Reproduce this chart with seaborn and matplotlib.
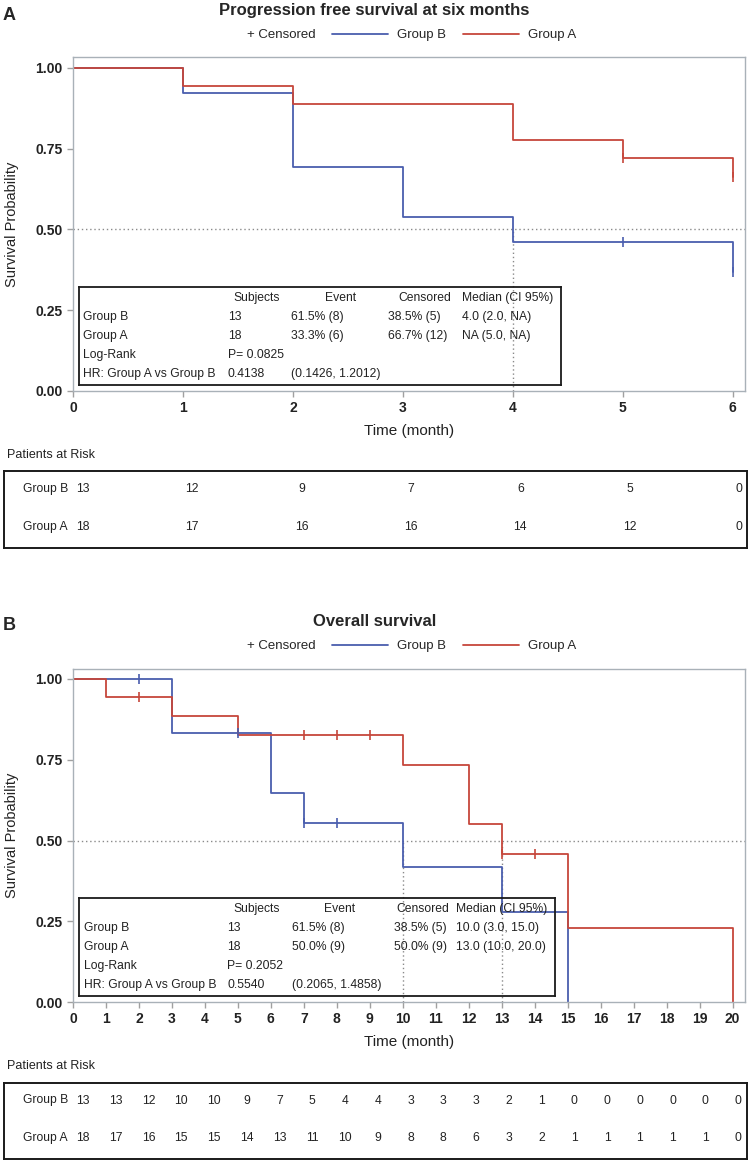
import matplotlib.pyplot as plt
from matplotlib.lines import Line2D
import pandas as pd
import seaborn as sns

# ---- Panel A: progression free survival at six months ----
pfs_times_b = [0, 1, 2, 3, 4, 6]
pfs_surv_b = [1.0, 0.923, 0.692, 0.538, 0.462, 0.369]
pfs_cens_t_b = [5, 6]
pfs_cens_s_b = [0.462, 0.369]
pfs_times_a = [0, 1, 2, 4, 5, 6]
pfs_surv_a = [1.0, 0.944, 0.889, 0.778, 0.722, 0.662]
pfs_cens_t_a = [5, 6]
pfs_cens_s_a = [0.722, 0.662]
pfs_medians = [4.0]
pfs_risk_times = [0, 1, 2, 3, 4, 5, 6]
pfs_risk_b = [13, 12, 9, 7, 6, 5, 0]
pfs_risk_a = [18, 17, 16, 16, 14, 12, 0]
pfs_stats = [
    ["Group B", "13", "61.5% (8)", "38.5% (5)", "4.0 (2.0, NA)"],
    ["Group A", "18", "33.3% (6)", "66.7% (12)", "NA (5.0, NA)"],
    ["Log-Rank", "P= 0.0825", "", "", ""],
    ["HR: Group A vs Group B", "0.4138", "(0.1426, 1.2012)", "", ""],
]

# ---- Panel B: overall survival ----
os_times_b = [0, 3, 6, 7, 10, 13, 15]
os_surv_b = [1.0, 0.833, 0.648, 0.555, 0.417, 0.278, 0.0]
os_cens_t_b = [2, 5, 7, 8]
os_cens_s_b = [1.0, 0.833, 0.555, 0.555]
os_times_a = [0, 1, 3, 5, 10, 12, 13, 15, 20]
os_surv_a = [1.0, 0.944, 0.885, 0.826, 0.735, 0.551, 0.459, 0.229, 0.0]
os_cens_t_a = [2, 7, 8, 9, 13, 14]
os_cens_s_a = [0.944, 0.826, 0.826, 0.826, 0.459, 0.459]
os_medians = [10.0, 13.0]
os_risk_times = list(range(21))
os_risk_b = [13, 13, 12, 10, 10, 9, 7, 5, 4, 4, 3, 3, 3, 2, 1, 0, 0, 0, 0, 0, 0]
os_risk_a = [18, 17, 16, 15, 15, 14, 13, 11, 10, 9, 8, 8, 6, 3, 2, 1, 1, 1, 1, 1, 0]
os_stats = [
    ["Group B", "13", "61.5% (8)", "38.5% (5)", "10.0 (3.0, 15.0)"],
    ["Group A", "18", "50.0% (9)", "50.0% (9)", "13.0 (10.0, 20.0)"],
    ["Log-Rank", "P= 0.2052", "", "", ""],
    ["HR: Group A vs Group B", "0.5540", "(0.2065, 1.4858)", "", ""],
]

stats_header = ["Subjects", "Event", "Censored", "Median (CI 95%)"]

sns.set_style("white")
plt.rcParams['font.family'] = ['Liberation Sans', 'DejaVu Sans']

BLUE = '#4a5eae'
RED = '#c6473b'
TXT = '#222222'
W, H = 749, 1162


def px_axes(fig, left, top, right, bottom):
    """Add axes placed with pixel edges (origin top-left)."""
    return fig.add_axes([left / W, 1 - bottom / H, (right - left) / W, (bottom - top) / H])


def draw_panel(fig, dy, letter, title, xmax, curves, medians, stats,
               cols, heads, box_lr, risk_times, risk_b, risk_a, risk_x1):
    # survival axes
    ax = px_axes(fig, 73, 57.5 + dy, 745, 391 + dy)
    unit = (732.5 - 73) / xmax
    ax.set_xlim(0, xmax + (745 - 732.5) / unit)
    ax.set_ylim(0, (391 - 57.5) / 323)

    for times, surv, ct, cs, color in curves:
        df = pd.DataFrame({"t": times, "s": surv})
        sns.lineplot(data=df, x="t", y="s", drawstyle="steps-post", color=color,
                     linewidth=1.3, ax=ax, estimator=None)
        cdf = pd.DataFrame({"t": ct, "s": cs})
        sns.scatterplot(data=cdf, x="t", y="s", marker="|", s=45, color=color,
                        linewidth=1.2, ax=ax, zorder=3)

    ax.axhline(0.5, color='#8a8a8a', ls=(0, (1, 2)), lw=1, zorder=1)
    ax.vlines(medians, 0, 0.5, color='#8a8a8a', ls=(0, (1, 2)), lw=1, zorder=1)

    ax.set_xticks(range(0, xmax + 1))
    ax.set_yticks([0, 0.25, 0.5, 0.75, 1.0])
    ax.set_yticklabels([f"{v:.2f}" for v in [0, 0.25, 0.5, 0.75, 1.0]])
    ax.tick_params(axis='both', length=4, width=1, color='#a0a0a0', labelsize=10,
                   labelcolor=TXT, pad=3.5, bottom=True, left=True)
    for lab in ax.get_xticklabels() + ax.get_yticklabels():
        lab.set_fontweight('bold')
    for sp in ax.spines.values():
        sp.set_color('#a9b1b8')
        sp.set_linewidth(1)
    ax.set_xlabel("Time (month)", fontsize=11, color=TXT)
    ax.xaxis.set_label_coords(0.5, -33 / 333.5)
    ax.set_ylabel("Survival Probability", fontsize=10.5, color=TXT)
    ax.yaxis.set_label_coords(-(73 - 12) / 672, 0.5)
    ax.yaxis.label.set_verticalalignment('center')

    # panel letter, title and legend
    fig.text(3 / W, 1 - (15 + dy) / H, letter, fontsize=13, fontweight='bold',
             ha='left', va='center')
    fig.text(0.5, 1 - (11 + dy) / H, title, fontsize=12, fontweight='bold',
             ha='center', va='center')
    handles = [Line2D([], [], color='none', label='+ Censored'),
               Line2D([], [], color=BLUE, lw=1.3, label='Group B'),
               Line2D([], [], color=RED, lw=1.3, label='Group A')]
    fig.legend(handles=handles, loc='center right', ncol=3, frameon=False,
               bbox_to_anchor=(576 / W, 1 - (35 + dy) / H), fontsize=9.5,
               handlelength=4.2, handletextpad=0.7, columnspacing=1.3,
               borderpad=0, borderaxespad=0)

    # statistics box
    bl, br = box_lr
    sx = px_axes(fig, bl, 287 + dy, br, 385 + dy)
    sx.set_facecolor('none')
    sx.set_xlim(bl, br)
    sx.set_ylim(98, 0)
    sx.set_xticks([])
    sx.set_yticks([])
    for sp in sx.spines.values():
        sp.set_color('#1a1a1a')
        sp.set_linewidth(1.3)
    for txt, (x, ha) in zip(stats_header, heads):
        sx.text(x, 11, txt, ha=ha, va='center', fontsize=8.7, color=TXT)
    for i, row in enumerate(stats):
        y = 30 + i * 19
        for txt, x in zip(row, cols):
            if txt:
                sx.text(x, y, txt, ha='left', va='center', fontsize=8.7, color=TXT)

    # patients at risk
    fig.text(7 / W, 1 - (455 + dy) / H, "Patients at Risk", fontsize=9,
             ha='left', va='center', color=TXT)
    rx = px_axes(fig, 4, 471.5 + dy, 747, 548 + dy)
    tmax = risk_times[-1]
    runit = (risk_x1 - 83) / tmax
    rx.set_xlim(-(83 - 4) / runit, tmax + (747 - risk_x1) / runit)
    rx.set_ylim(-21 / 37.5, 1 + 18 / 37.5)
    rx.set_xticks([])
    rx.set_yticks([])
    for sp in rx.spines.values():
        sp.set_color('#1a1a1a')
        sp.set_linewidth(1.4)
    trans = rx.get_yaxis_transform()
    for y, name, vals in [(1, "Group B", risk_b), (0, "Group A", risk_a)]:
        rx.text(19 / 743, y, name, transform=trans, ha='left', va='center',
                fontsize=8.7, color=TXT)
        for t, v in zip(risk_times, vals):
            rx.text(t, y, str(v), ha='center', va='center', fontsize=8.7, color=TXT)


fig = plt.figure(figsize=(W / 100, H / 100), dpi=100)

draw_panel(fig, 0, "A", "Progression free survival at six months", 6,
           [(pfs_times_b, pfs_surv_b, pfs_cens_t_b, pfs_cens_s_b, BLUE),
            (pfs_times_a, pfs_surv_a, pfs_cens_t_a, pfs_cens_s_a, RED)],
           pfs_medians, pfs_stats,
           [83, 228, 291, 388, 462],
           [(257, 'center'), (341, 'center'), (451, 'right'), (462, 'left')],
           (79, 561), pfs_risk_times, pfs_risk_b, pfs_risk_a, 739)

draw_panel(fig, 611, "B", "Overall survival", 20,
           [(os_times_b, os_surv_b, os_cens_t_b, os_cens_s_b, BLUE),
            (os_times_a, os_surv_a, os_cens_t_a, os_cens_s_a, RED)],
           os_medians, os_stats,
           [84, 227, 292, 394, 456],
           [(257, 'center'), (340, 'center'), (449, 'right'), (456, 'left')],
           (79, 555), os_risk_times, os_risk_b, os_risk_a, 738)

fig.savefig("out.png", dpi=100)
